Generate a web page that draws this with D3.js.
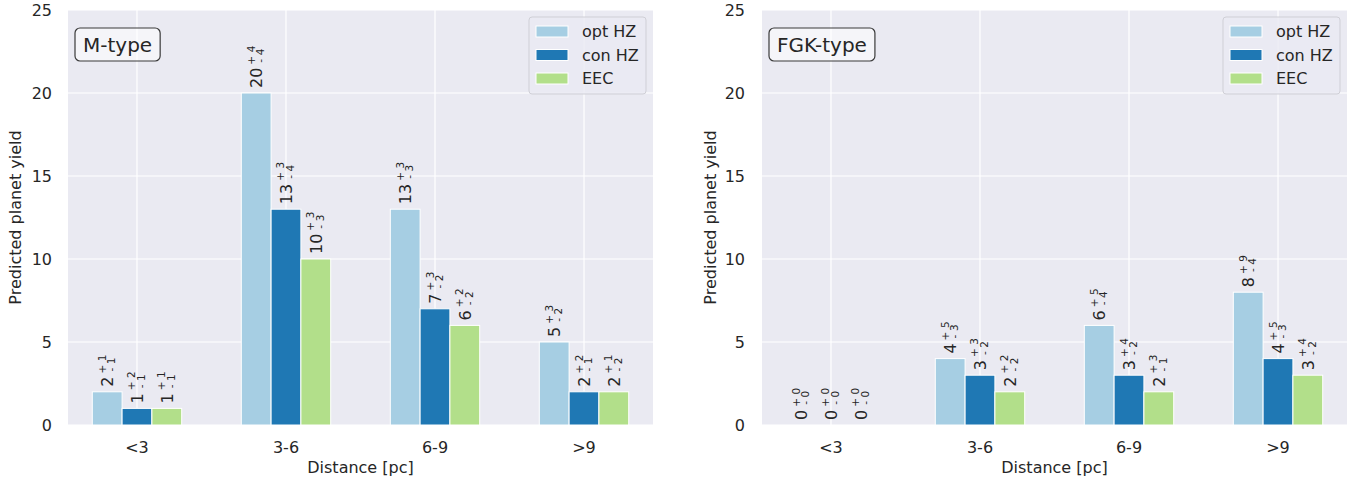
<!DOCTYPE html>
<html>
<head>
<meta charset="utf-8">
<script src="https://cdn.jsdelivr.net/npm/d3@7"></script>
<style>
  html, body { margin: 0; padding: 0; background: #ffffff; }
  svg { display: block; font-family: "DejaVu Sans", sans-serif; }
</style>
</head>
<body>
<svg id="chart" width="1361" height="480"></svg>
<script>
// ---- data ----
const categories = ["<3", "3-6", "6-9", ">9"];
const seriesNames = ["opt HZ", "con HZ", "EEC"];
const seriesColors = ["#a6cee3", "#1f78b4", "#b2df8a"];
const yTicks = [0, 5, 10, 15, 20, 25];

// M-type
const mOpt = [2, 20, 13, 5];
const mOptPlus = [1, 4, 3, 3];
const mOptMinus = [1, 4, 3, 2];
const mCon = [1, 13, 7, 2];
const mConPlus = [2, 3, 3, 2];
const mConMinus = [1, 4, 2, 1];
const mEEC = [1, 10, 6, 2];
const mEECPlus = [1, 3, 2, 1];
const mEECMinus = [1, 3, 2, 2];

// FGK-type
const fOpt = [0, 4, 6, 8];
const fOptPlus = [0, 5, 5, 9];
const fOptMinus = [0, 3, 4, 4];
const fCon = [0, 3, 3, 4];
const fConPlus = [0, 3, 4, 5];
const fConMinus = [0, 2, 2, 3];
const fEEC = [0, 2, 2, 3];
const fEECPlus = [0, 2, 3, 4];
const fEECMinus = [0, 2, 1, 2];

const panels = [
  { title: "M-type", x0: 68, labelRight: 52, yLabelX: 21,
    series: [[mOpt, mOptPlus, mOptMinus], [mCon, mConPlus, mConMinus], [mEEC, mEECPlus, mEECMinus]] },
  { title: "FGK-type", x0: 762, labelRight: 745, yLabelX: 716,
    series: [[fOpt, fOptPlus, fOptMinus], [fCon, fConPlus, fConMinus], [fEEC, fEECPlus, fEECMinus]] }
];

const svg = d3.select("#chart");
const W = 585, plotTop = 10, H = 415;
const textColor = "#262626";
const barW = 0.2;

panels.forEach(p => {
  const g = svg.append("g");
  const x = d3.scaleLinear().domain([-0.463, 3.463]).range([p.x0, p.x0 + W]);
  const y = d3.scaleLinear().domain([0, 25]).range([plotTop + H, plotTop]);

  g.append("rect").attr("x", p.x0).attr("y", plotTop).attr("width", W).attr("height", H)
    .attr("fill", "#eaeaf2");

  // grid
  g.selectAll(".hg").data(yTicks).join("line")
    .attr("x1", p.x0).attr("x2", p.x0 + W)
    .attr("y1", d => y(d)).attr("y2", d => y(d))
    .attr("stroke", "#ffffff").attr("stroke-width", 1.2);
  g.selectAll(".vg").data(categories).join("line")
    .attr("x1", (d, i) => x(i)).attr("x2", (d, i) => x(i))
    .attr("y1", plotTop).attr("y2", plotTop + H)
    .attr("stroke", "#ffffff").attr("stroke-width", 1.2);

  // y tick labels
  g.selectAll(".yt").data(yTicks).join("text")
    .attr("x", p.labelRight).attr("y", d => y(d))
    .attr("dy", "0.36em").attr("text-anchor", "end")
    .attr("font-size", 16).attr("fill", textColor).text(d => d);

  // x tick labels
  g.selectAll(".xt").data(categories).join("text")
    .attr("x", (d, i) => x(i)).attr("y", 453)
    .attr("text-anchor", "middle")
    .attr("font-size", 16).attr("fill", textColor).text(d => d);

  // axis labels
  g.append("text").attr("x", p.x0 + W / 2).attr("y", 473)
    .attr("text-anchor", "middle").attr("font-size", 16).attr("fill", textColor)
    .text("Distance [pc]");
  g.append("text")
    .attr("transform", `translate(${p.yLabelX},${plotTop + H / 2}) rotate(-90)`)
    .attr("text-anchor", "middle").attr("font-size", 16).attr("fill", textColor)
    .text("Predicted planet yield");

  // bars
  p.series.forEach((s, si) => {
    const [vals, plus, minus] = s;
    const off = (si - 1) * barW;
    g.selectAll(".bar" + si).data(vals).join("rect")
      .attr("x", (d, i) => x(i + off - barW / 2))
      .attr("width", (d, i) => x(i + off + barW / 2) - x(i + off - barW / 2))
      .attr("y", d => y(d))
      .attr("height", d => y(0) - y(d))
      .attr("fill", seriesColors[si])
      .attr("stroke", "#ffffff").attr("stroke-width", 1);

    vals.forEach((v, i) => {
      const cx = x(i + off);
      const a = g.append("g")
        .attr("transform", `translate(${cx},${y(v) - 5}) rotate(-90)`);
      const main = a.append("text").attr("x", 0).attr("y", 6)
        .attr("font-size", 16).attr("fill", textColor).text(v);
      const w = main.node().getComputedTextLength();
      const sup = a.append("text").attr("x", w + 3).attr("y", -1.5)
        .attr("font-size", 10.5).attr("fill", textColor);
      sup.append("tspan").text("+");
      sup.append("tspan").attr("dx", 3.5).text(plus[i]);
      const sub = a.append("text").attr("x", w + 3).attr("y", 8)
        .attr("font-size", 10.5).attr("fill", textColor);
      sub.append("tspan").attr("dx", 2).text("-");
      sub.append("tspan").attr("dx", 3.5).text(minus[i]);
    });
  });

  // title box
  const tg = g.append("g");
  const tt = tg.append("text").attr("x", p.x0 + 15).attr("y", 52)
    .attr("font-size", 20).attr("fill", textColor).text(p.title);
  const tw = tt.node().getComputedTextLength();
  tg.insert("rect", "text").attr("x", p.x0 + 7).attr("y", 28)
    .attr("width", tw + 16).attr("height", 33).attr("rx", 5)
    .attr("fill", "rgba(255,255,255,0.5)").attr("stroke", "#3a3a3a").attr("stroke-width", 1.2);

  // legend
  const lx = p.x0 + W - 124, ly = 17;
  const lg = g.append("g");
  lg.append("rect").attr("x", lx).attr("y", ly).attr("width", 117).attr("height", 77)
    .attr("rx", 3).attr("fill", "rgba(234,234,242,0.8)").attr("stroke", "#cfcfd6").attr("stroke-width", 1);
  seriesNames.forEach((n, si) => {
    const cy = ly + 14.5 + si * 23.5;
    lg.append("rect").attr("x", lx + 7).attr("y", cy - 5.5).attr("width", 32).attr("height", 11)
      .attr("fill", seriesColors[si]).attr("stroke", "#ffffff").attr("stroke-width", 1);
    lg.append("text").attr("x", lx + 53).attr("y", cy).attr("dy", "0.36em")
      .attr("font-size", 16).attr("fill", textColor).text(n);
  });
});
</script>
</body>
</html>
